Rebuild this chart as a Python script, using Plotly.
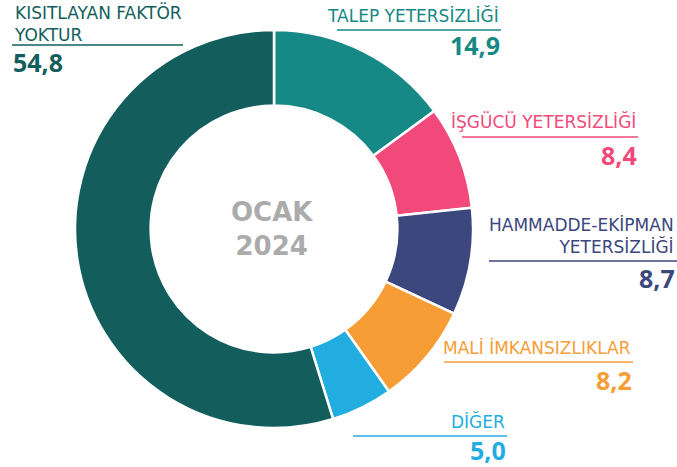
import plotly.graph_objects as go

W, H = 677, 467

labels = ["TALEP YETERSİZLİĞİ", "İŞGÜCÜ YETERSİZLİĞİ", "HAMMADDE-EKİPMAN<br>YETERSİZLİĞİ",
          "MALİ İMKANSIZLIKLAR", "DİĞER", "KISITLAYAN FAKTÖR<br>YOKTUR"]
values = [14.9, 8.4, 8.7, 8.2, 5.0, 54.8]
colors = ["#168886", "#f0497a", "#3b477d", "#f79d36", "#22ade0", "#135e5d"]
center_text = "OCAK<br>2024"

# label layout in pixels: (anchor, x text, y centre of label block, line x0, x1, line y, y value)
place = [
    ("right", 501, 15, 337, 501, 30, 45),
    ("right", 638, 122, 462, 638, 137, 155),
    ("right", 676, 236, 489, 677, 261, 278),
    ("right", 633, 348, 444, 633, 362, 380),
    ("right", 507, 421, 353, 507, 436, 450),
    ("left", 12, 23, 12, 183, 45, 62),
]


def px(x):
    return x / W


def py(y):
    return 1 - y / H


cx, cy, R = 274, 229, 199
fig = go.Figure(go.Pie(
    labels=labels, values=values, sort=False, direction="clockwise", rotation=0,
    hole=0.62, marker=dict(colors=colors, line=dict(color="white", width=2.5)),
    textinfo="none", hoverinfo="label+value", showlegend=False,
    domain=dict(x=[px(cx - R), px(cx + R)], y=[py(cy + R), py(cy - R)]),
))

fig.add_annotation(text=center_text, x=px(272), y=py(229), xref="paper", yref="paper",
                   showarrow=False, align="center",
                   font=dict(family="DejaVu Sans", size=26, color="#ababab", weight="bold"))

for lab, val, col, (anc, tx, ty, lx0, lx1, ly, vy) in zip(labels, values, colors, place):
    fig.add_annotation(text=lab, x=px(tx), y=py(ty), xref="paper", yref="paper",
                       xanchor=anc, yanchor="middle", showarrow=False, align=anc,
                       font=dict(family="DejaVu Sans", size=17, color=col))
    fig.add_shape(type="line", xref="paper", yref="paper", x0=px(lx0), x1=px(lx1),
                  y0=py(ly), y1=py(ly), line=dict(color=col, width=1.5))
    fig.add_annotation(text=f"{val:.1f}".replace(".", ","), x=px(tx), y=py(vy),
                       xref="paper", yref="paper", xanchor=anc, yanchor="middle",
                       showarrow=False, borderpad=0,
                       font=dict(family="Open Sans", size=25, color=col, weight="bold"))

fig.update_layout(width=W, height=H, margin=dict(l=0, r=0, t=0, b=0),
                  paper_bgcolor="white", plot_bgcolor="white")
fig.write_html("out.html", config={"displayModeBar": False},
               post_script="document.body.style.margin='0';")
